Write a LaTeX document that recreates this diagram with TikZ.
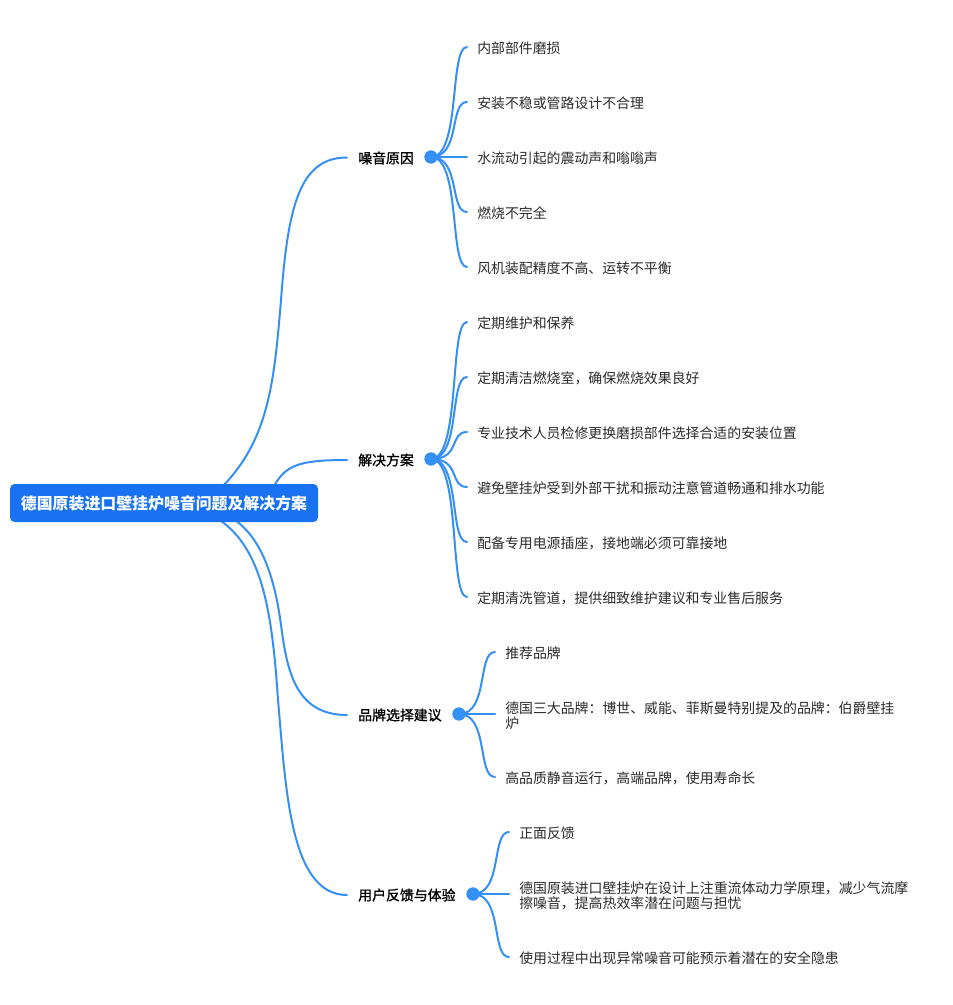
\documentclass[tikz,border=0pt]{standalone}
\usepackage{fontspec}
\setmainfont{Noto Sans CJK SC}
\newfontfamily\fauxbold[FakeBold=1.2]{Noto Sans CJK SC}
\definecolor{rootfill}{HTML}{1771F1}
\definecolor{linkc}{HTML}{3590F5}
\definecolor{txt}{HTML}{2B2B2B}
\tikzset{
  x=0.75pt,y=-0.75pt,
  rootbox/.style={fill=rootfill,rounded corners=3.5pt,text=white,font=\fontsize{11.92pt}{15pt}\selectfont\bfseries,minimum width=231pt,minimum height=28.5pt,inner sep=0pt},
  branch/.style={anchor=west,text=black,font=\fontsize{10.42pt}{11pt}\fauxbold\selectfont,inner sep=0pt},
  dot/.style={circle,fill=linkc,minimum size=10pt,inner sep=0pt},
  leaf/.style={anchor=west,text=txt,font=\fontsize{10.42pt}{11pt}\selectfont,inner xsep=7.5pt,inner ysep=0pt,align=left},
  link/.style={draw=linkc,line width=1.5pt,line cap=round},
  fan/.style={link},
}
\begin{document}
\begin{tikzpicture}
\useasboundingbox (0,0) rectangle (952,1005);
\fill[white] (0,0) rectangle (952,1005);
% branches
\node[branch] (b1) at (358,158) {噪音原因};
\node[branch] (b2) at (358,460) {解决方案};
\node[branch] (b3) at (358,715) {品牌选择建议};
\node[branch] (b4) at (358,895) {用户反馈与体验};
\node[dot] (d1) at (431,157) {};
\node[dot] (d2) at (431,459) {};
\node[dot] (d3) at (459,714) {};
\node[dot] (d4) at (473,894) {};
\coordinate (e1) at (347,157.5);
\coordinate (e2) at (347,460);
\coordinate (e3) at (347,715);
\coordinate (e4) at (347,895);
\coordinate (s1) at (222,487);
\coordinate (s2) at (272,490);
\coordinate (s3) at (230,517);
\coordinate (s4) at (215,517);
\coordinate (m1) at (281,300);
\coordinate (m3) at (281,625);
\coordinate (m4) at (278,700);
% leaves
\foreach \n/\yy/\t in {
 l11/48/内部部件磨损, l12/103/安装不稳或管路设计不合理, l13/158/水流动引起的震动声和嗡嗡声, l14/213/燃烧不完全, l15/268/风机装配精度不高、运转不平衡}
 {\node[leaf] (\n) at (467,\yy) {\t};}
\foreach \n/\yy/\t in {
 l21/323/定期维护和保养, l22/378/定期清洁燃烧室，确保燃烧效果良好, l23/433/专业技术人员检修更换磨损部件选择合适的安装位置, l24/488/避免壁挂炉受到外部干扰和振动注意管道畅通和排水功能, l25/543/配备专用电源插座，接地端必须可靠接地, l26/598/定期清洗管道，提供细致维护建议和专业售后服务}
 {\node[leaf] (\n) at (467,\yy) {\t};}
\node[leaf] (l31) at (495,653) {推荐品牌};
\node[leaf] (l32) at (495,716) {德国三大品牌：博世、威能、菲斯曼特别提及的品牌：伯爵壁挂\\炉};
\node[leaf] (l33) at (495,778) {高品质静音运行，高端品牌，使用寿命长};
\node[leaf] (l41) at (509,833) {正面反馈};
\node[leaf] (l42) at (509,896) {德国原装进口壁挂炉在设计上注重流体动力学原理，减少气流摩\\擦噪音，提高热效率潜在问题与担忧};
\node[leaf] (l43) at (509,958) {使用过程中出现异常噪音可能预示着潜在的安全隐患};
% connectors
\foreach \n in {l11,l12,l13,l14,l15}
 \draw[fan] (d1.center) .. controls +(30,0) and +(-18,0) .. ([yshift=.75pt]\n.west);
\foreach \n in {l21,l22,l23,l24,l25,l26}
 \draw[fan] (d2.center) .. controls +(30,0) and +(-18,0) .. ([yshift=.75pt]\n.west);
\foreach \n in {l31,l33}
 \draw[fan] (d3.center) .. controls +(30,0) and +(-18,0) .. ([yshift=.75pt]\n.west);
\draw[fan] (d3.center) -- ([yshift=1.5pt]l32.west);
\foreach \n in {l41,l43}
 \draw[fan] (d4.center) .. controls +(30,0) and +(-18,0) .. ([yshift=.75pt]\n.west);
\draw[fan] (d4.center) -- ([yshift=1.5pt]l42.west);
\draw[link] (s1) .. controls (268,440) and (274,385) .. (m1) .. controls (288,205) and (300,157.5) .. (e1);
\draw[link] (s2) .. controls (284,466) and (296,460) .. (e2);
\draw[link] (s3) .. controls (262,535) and (275,580) .. (m3) .. controls (287,670) and (295,715) .. (e3);
\draw[link] (s4) .. controls (262,545) and (272,610) .. (m4) .. controls (286,790) and (290,895) .. (e4);
\node[rootbox] (root) at (164,503) {德国原装进口壁挂炉噪音问题及解决方案};
\end{tikzpicture}
\end{document}
